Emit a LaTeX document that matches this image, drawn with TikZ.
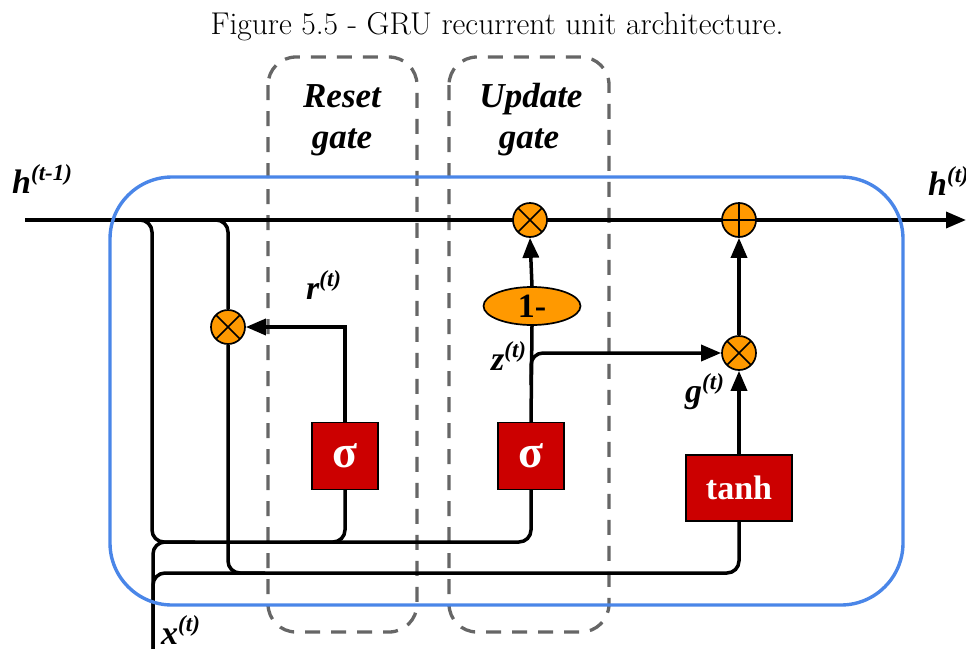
\documentclass[tikz,border=0pt]{standalone}
\usepackage{fontspec}
\newfontfamily\tnr{Liberation Serif}
\usetikzlibrary{arrows.meta,shapes.geometric}
\pgfdeclarelayer{back2}
\pgfdeclarelayer{background}
\pgfdeclarelayer{mid}
\pgfsetlayers{back2,background,mid,main}
\definecolor{orng}{RGB}{255,153,0}
\definecolor{redb}{RGB}{204,0,0}
\definecolor{blu}{RGB}{74,134,232}
\definecolor{gry}{RGB}{102,102,102}
\newcommand\lblsup[2]{{\tnr\bfseries\itshape\fontsize{34}{38}\selectfont #1\fontsize{23}{26}\selectfont\raisebox{13pt}{(#2)}}}
\begin{document}
\begin{tikzpicture}[x=1pt,y=-1pt,
 wire/.style={line width=3.5pt, black},
 rc/.style={wire, rounded corners=12pt},
 arr/.style={wire, -{Triangle[length=20pt,width=16pt]}},
 opnode/.style={circle, draw, fill=orng, line width=1.7pt, minimum size=34pt, inner sep=0pt},
 otimesn/.style={opnode, path picture={\draw[line width=1.7pt] (path picture bounding box.north west) -- (path picture bounding box.south east) (path picture bounding box.north east) -- (path picture bounding box.south west);}},
 oplusn/.style={opnode, path picture={\draw[line width=1.7pt] (path picture bounding box.north) -- (path picture bounding box.south) (path picture bounding box.east) -- (path picture bounding box.west);}},
 gatebox/.style={draw, fill=redb, line width=1.4pt, text=white, inner sep=0pt},
 gatelbl/.style={anchor=base, font=\tnr\bfseries\itshape\fontsize{35}{40}\selectfont, inner sep=0pt},
 gatedash/.style={draw=gry, line width=3.3pt, dash pattern=on 15pt off 11pt, rounded corners=28pt},
 lbl/.style={anchor=base west, inner sep=0pt}
]
\useasboundingbox (0,0) rectangle (966,648);

\node (title) at (497,27) {\fontsize{31.5}{36}\selectfont Figure 5.5 - GRU recurrent unit architecture.};

% gate labels
\node[gatelbl] (rst1) at (342,107) {Reset};
\node[gatelbl] (rst2) at (342,148) {gate};
\node[gatelbl] (upd1) at (531,107) {Update};
\node[gatelbl] (upd2) at (529,148) {gate};

% operation nodes
\node[otimesn] (otU) at (530,220) {};
\node[oplusn]  (opl) at (739,220) {};
\node[otimesn] (otR) at (228,327) {};
\node[otimesn] (otG) at (739,353) {};
\node[ellipse, draw, fill=orng, line width=1.7pt, minimum width=97pt, minimum height=38pt, inner sep=0pt, font=\tnr\bfseries\fontsize{34}{38}\selectfont] (om) at (532,306) {1-};

\node[gatebox, minimum width=66pt, minimum height=67pt, font=\tnr\bfseries\fontsize{46}{50}\selectfont] (sigR) at (345,456) {σ};
\node[gatebox, minimum width=66pt, minimum height=67pt, font=\tnr\bfseries\fontsize{46}{50}\selectfont] (sigU) at (531,456) {σ};
\node[gatebox, minimum width=106pt, minimum height=66pt, font=\tnr\bfseries\fontsize{34}{38}\selectfont] (tanh) at (739,488) {tanh};

% labels
\node[lbl] (lhp) at (12,193) {\lblsup{h}{t-1}};
\node[lbl] (lh)  at (928,195) {\lblsup{h}{t}};
\node[lbl] (lx)  at (161,644) {\lblsup{x}{t}};
\node[lbl] (lr)  at (306,299) {\lblsup{r}{t}};
\node[lbl] (lz)  at (491,370) {\lblsup{z}{t}};
\node[lbl] (lg)  at (685,402) {\lblsup{g}{t}};

% coordinates
\coordinate (hin) at (25,220);
\coordinate (hout) at (966,220);
\coordinate (b1) at (128,220);
\coordinate (b2) at (200,220);
\coordinate (xin) at (153,660);
\coordinate (zb) at (531,385);

\begin{pgfonlayer}{back2}
\draw[gatedash] (268,57) rectangle (417,632);
\draw[gatedash] (449,57) rectangle (609,632);
\end{pgfonlayer}

\begin{pgfonlayer}{mid}
\draw[blu, line width=3.4pt, rounded corners=62pt] (110,177) rectangle (903,605);
\end{pgfonlayer}

\begin{pgfonlayer}{background}
\draw[arr] (hin) -- (hout);
\draw[rc] (b1) -| (152,542) -| (sigU.south);
\draw[rc] (sigR.south) |- (300,542);
\draw[rc] (xin) |- (195,542);
\draw[rc] (xin) |- (739,573) -- (tanh.south);
\draw[rc] (otR.south) |- (265,573);
\draw[rc] (b2) -| (otR.north);
\draw[arr] (sigR.north) |- (otR.east);
\draw[wire] (sigU.north) -- (om.south);
\draw[arr, rounded corners=12pt] (zb) |- (otG.west);
\draw[arr] (om.north) -- (otU.south);
\draw[arr] (tanh.north) -- (otG.south);
\draw[arr] (otG.north) -- (opl.south);
\end{pgfonlayer}
\end{tikzpicture}
\end{document}
